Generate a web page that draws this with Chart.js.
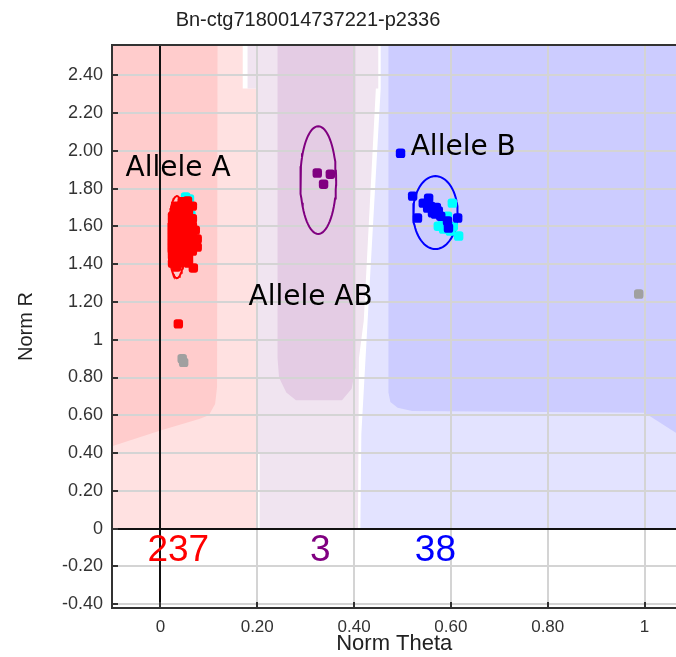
<!DOCTYPE html>
<html>
<head>
<meta charset="utf-8">
<script src="https://cdn.jsdelivr.net/npm/chart.js@4.4.1/dist/chart.umd.min.js"></script>
<style>
  body { margin: 0; background: #fff; overflow: hidden; }
  #wrap { width: 682px; height: 657px; position: relative; }
</style>
</head>
<body>
<div id="wrap"><canvas id="grafico"></canvas></div>
<script>
const titulo = 'Bn-ctg7180014737221-p2336'
const xTicks = [0, 0.2, 0.4, 0.6, 0.8, 1]
const yTicks = [-0.4, -0.2, 0, 0.2, 0.4, 0.6, 0.8, 1, 1.2, 1.4, 1.6, 1.8, 2, 2.2, 2.4]

// pontos (norm theta, norm R)
const pontosA = [
  [0.025, 1.654], [0.025, 1.628], [0.025, 1.601], [0.025, 1.575], [0.025, 1.549], [0.025, 1.522], [0.025, 1.496], [0.025, 1.470], [0.025, 1.443], [0.025, 1.406],
  [0.030, 1.690], [0.030, 1.420],
  [0.033, 1.707], [0.033, 1.665], [0.033, 1.640], [0.033, 1.617], [0.033, 1.596], [0.033, 1.575], [0.033, 1.548], [0.033, 1.522], [0.033, 1.496], [0.033, 1.469], [0.033, 1.448], [0.033, 1.427], [0.033, 1.385],
  [0.041, 1.707], [0.041, 1.683], [0.041, 1.660], [0.041, 1.638], [0.041, 1.617], [0.041, 1.590], [0.041, 1.564], [0.041, 1.538], [0.041, 1.512], [0.041, 1.485], [0.041, 1.459], [0.041, 1.432], [0.041, 1.406],
  [0.050, 1.712], [0.050, 1.691], [0.050, 1.664], [0.050, 1.638], [0.050, 1.612], [0.050, 1.586], [0.050, 1.560], [0.050, 1.533], [0.050, 1.506], [0.050, 1.480], [0.050, 1.454], [0.050, 1.427],
  [0.058, 1.670], [0.058, 1.643], [0.058, 1.617], [0.058, 1.590], [0.058, 1.564], [0.058, 1.538], [0.058, 1.512], [0.058, 1.485], [0.058, 1.459], [0.058, 1.432], [0.058, 1.406],
  [0.066, 1.707], [0.066, 1.640], [0.066, 1.601], [0.066, 1.560], [0.066, 1.522], [0.066, 1.496], [0.066, 1.469],
  [0.072, 1.580], [0.076, 1.533], [0.076, 1.490], [0.068, 1.380], [0.045, 1.730], [0.056, 1.735],
  [0.037, 1.084]
]
const pontosACiano = [[0.052, 1.755], [0.060, 1.745], [0.063, 1.660]]
const pontosAB = [[0.324, 1.882], [0.351, 1.876], [0.337, 1.823]]
const pontosB = [
  [0.496, 1.987], [0.521, 1.760], [0.554, 1.749], [0.543, 1.723], [0.558, 1.707], [0.552, 1.697],
  [0.564, 1.691], [0.574, 1.681], [0.568, 1.665], [0.579, 1.654], [0.531, 1.644], [0.593, 1.628],
  [0.614, 1.644], [0.595, 1.591], [0.562, 1.672], [0.570, 1.700]
]
const pontosBCiano = [
  [0.603, 1.723], [0.593, 1.654], [0.583, 1.628], [0.585, 1.586],
  [0.599, 1.575], [0.616, 1.549], [0.574, 1.601], [0.605, 1.600]
]
const pontosSemChamada = [[0.045, 0.900], [0.048, 0.880], [0.988, 1.242]]

// elipses dos clusters: [centro x, centro y, raio x, raio y]
const elipseA = [0.034, 1.543, 0.0175, 0.217]
const elipseAB = [0.326, 1.845, 0.037, 0.285]
const elipseB = [0.568, 1.673, 0.046, 0.193]

// regioes de classificacao (poligonos em coordenadas de dados)
const regiaoRosa = [[-0.12, 0], [0.2, 0], [0.2, 2.33], [0.17, 2.33], [0.17, 2.6], [-0.12, 2.6]]
const regiaoVermelha = [[-0.12, 2.6], [0.118, 2.6], [0.117, 0.75], [0.113, 0.66], [0.1, 0.6], [0.08, 0.58], [0.0, 0.52], [-0.12, 0.42]]
const regiaoLilas = [[0.205, 0], [0.408, 0], [0.41, 0.9], [0.42, 1.1], [0.445, 2.33], [0.45, 2.33], [0.45, 2.6], [0.18, 2.6], [0.18, 2.33], [0.2, 2.33], [0.2, 0.4], [0.205, 0.4]]
const regiaoRoxa = [[0.242, 2.6], [0.403, 2.6], [0.403, 0.85], [0.395, 0.74], [0.375, 0.68], [0.28, 0.68], [0.26, 0.72], [0.245, 0.8], [0.242, 0.9]]
const regiaoAzulClara = [[0.413, 0], [1.1, 0], [1.1, 2.6], [0.455, 2.6], [0.455, 2.33], [0.428, 1.1], [0.415, 0.5]]
const regiaoAzul = [[0.471, 2.6], [1.1, 2.6], [1.1, 0.45], [1.0, 0.613], [0.52, 0.623], [0.49, 0.64], [0.475, 0.67], [0.471, 0.72]]

const rotulos = [
  { texto: 'Allele A', x: -0.072, y: 1.903, cor: '#000', fonte: '28px "DejaVu Sans"', alinhar: 'left' },
  { texto: 'Allele AB', x: 0.182, y: 1.221, cor: '#000', fonte: '28px "DejaVu Sans"', alinhar: 'left' },
  { texto: 'Allele B', x: 0.517, y: 2.014, cor: '#000', fonte: '28px "DejaVu Sans"', alinhar: 'left' },
  { texto: '237', x: 0.037, y: -0.116, cor: '#ff0000', fonte: '37px "Liberation Sans"', alinhar: 'center' },
  { texto: '3', x: 0.33, y: -0.116, cor: '#800080', fonte: '37px "Liberation Sans"', alinhar: 'center' },
  { texto: '38', x: 0.568, y: -0.116, cor: '#0000ff', fonte: '37px "Liberation Sans"', alinhar: 'center' }
]

const xy = arr => arr.map(p => ({ x: p[0], y: p[1] }))

function pontosElipse(e) {
  const pts = []
  for (let i = 0; i <= 72; i++) {
    const a = i / 72 * Math.PI * 2
    pts.push({ x: e[0] + e[2] * Math.cos(a), y: e[1] + e[3] * Math.sin(a) })
  }
  return pts
}

function regiao(pts, cor, ordem) {
  return { data: xy(pts), showLine: true, fill: 'shape', backgroundColor: cor, borderWidth: 0, pointRadius: 0, order: ordem }
}

function elipse(e, cor) {
  return { data: pontosElipse(e), showLine: true, fill: false, borderColor: cor, borderWidth: 2, pointRadius: 0, order: 5 }
}

function pontos(arr, cor, ordem) {
  return { data: xy(arr), backgroundColor: cor, borderColor: cor, pointStyle: 'rectRounded', pointRadius: 5.5, borderWidth: 0, order: ordem }
}

function fmt(v) {
  if (Math.abs(v) < 1e-9) return '0'
  if (Math.abs(v - 1) < 1e-9) return '1'
  return v.toFixed(2)
}

const grade = {
  id: 'grade',
  afterDatasetDraw(chart, args) {
    if (chart.data.datasets[args.index].order !== 100) return
    const { ctx, chartArea: a, scales: { x, y } } = chart
    ctx.save()
    ctx.beginPath()
    ctx.rect(a.left, a.top, a.right - a.left, a.bottom - a.top)
    ctx.clip()
    ctx.strokeStyle = '#d4d4d4'
    ctx.lineWidth = 2
    xTicks.forEach(v => {
      const px = Math.round(x.getPixelForValue(v))
      ctx.beginPath(); ctx.moveTo(px, a.top); ctx.lineTo(px, a.bottom); ctx.stroke()
    })
    yTicks.forEach(v => {
      const py = Math.round(y.getPixelForValue(v))
      ctx.beginPath(); ctx.moveTo(a.left, py); ctx.lineTo(a.right, py); ctx.stroke()
    })
    ctx.strokeStyle = '#111'
    const x0 = Math.round(x.getPixelForValue(0))
    const y0 = Math.round(y.getPixelForValue(0))
    ctx.beginPath(); ctx.moveTo(x0, a.top); ctx.lineTo(x0, a.bottom); ctx.stroke()
    ctx.beginPath(); ctx.moveTo(a.left, y0); ctx.lineTo(a.right, y0); ctx.stroke()
    ctx.restore()
  },
  afterDatasetsDraw(chart) {
    const { ctx, chartArea: a, scales: { x, y } } = chart
    ctx.save()
    rotulos.forEach(r => {
      ctx.font = r.fonte
      ctx.fillStyle = r.cor
      ctx.textAlign = r.alinhar
      ctx.textBaseline = 'middle'
      ctx.fillText(r.texto, x.getPixelForValue(r.x), y.getPixelForValue(r.y))
    })
    // moldura e marcas dos ticks
    ctx.strokeStyle = '#333'
    ctx.lineWidth = 2
    ctx.beginPath()
    ctx.moveTo(a.right, a.top); ctx.lineTo(a.left, a.top); ctx.lineTo(a.left, a.bottom); ctx.lineTo(a.right, a.bottom)
    ctx.stroke()
    yTicks.forEach(v => {
      const py = Math.round(y.getPixelForValue(v))
      ctx.beginPath(); ctx.moveTo(a.left, py); ctx.lineTo(a.left + 6, py); ctx.stroke()
    })
    xTicks.forEach(v => {
      const px = Math.round(x.getPixelForValue(v))
      ctx.beginPath(); ctx.moveTo(px, a.bottom); ctx.lineTo(px, a.bottom - 6); ctx.stroke()
    })
    ctx.font = '20px "Liberation Sans"'
    ctx.fillStyle = '#222'
    ctx.textAlign = 'center'
    ctx.textBaseline = 'middle'
    ctx.fillText(titulo, 308, 20)
    ctx.restore()
  }
}

new Chart(document.getElementById('grafico'), {
  type: 'scatter',
  data: {
    datasets: [
      pontos(pontosB, '#0000ff', 1),
      pontos(pontosBCiano, '#00ffff', 2),
      pontos(pontosA, '#ff0000', 1),
      pontos(pontosACiano, '#00ffff', 2),
      pontos(pontosAB, '#800080', 1),
      pontos(pontosSemChamada, '#a0a0a0', 1),
      elipse(elipseA, '#ff0000'),
      elipse(elipseAB, '#800080'),
      elipse(elipseB, '#0000ff'),
      regiao(regiaoRoxa, '#e4cce4', 100),
      regiao(regiaoAzul, '#ccccff', 100),
      regiao(regiaoVermelha, '#ffcccc', 100),
      regiao(regiaoAzulClara, '#e3e3ff', 101),
      regiao(regiaoLilas, '#f0e4f0', 101),
      regiao(regiaoRosa, '#ffe1e1', 101)
    ]
  },
  options: {
    responsive: true,
    maintainAspectRatio: false,
    animation: false,
    layout: { padding: { top: 45, left: 0, right: 0, bottom: 0 } },
    plugins: { legend: { display: false }, tooltip: { enabled: false } },
    scales: {
      x: {
        type: 'linear', min: -0.1, max: 1.066,
        afterBuildTicks: s => { s.ticks = xTicks.map(v => ({ value: v })) },
        afterFit: s => { s.height = 49; s.paddingLeft = 0; s.paddingRight = 0 },
        grid: { display: false, drawTicks: false },
        border: { display: false },
        ticks: { callback: v => fmt(v), padding: 9, color: '#333', font: { family: 'Liberation Sans', size: 17 }, maxRotation: 0 },
        title: { display: true, text: 'Norm Theta', color: '#222', font: { family: 'Liberation Sans', size: 22 }, padding: { top: 0, bottom: 0 } }
      },
      y: {
        type: 'linear', min: -0.42, max: 2.56,
        afterBuildTicks: s => { s.ticks = yTicks.map(v => ({ value: v })) },
        afterFit: s => { s.width = 112 },
        grid: { display: false, drawTicks: false },
        border: { display: false },
        ticks: { callback: v => fmt(v), padding: 9, color: '#333', font: { family: 'Liberation Sans', size: 18 } },
        title: { display: true, text: 'Norm R', color: '#222', font: { family: 'Liberation Sans', size: 20 }, padding: { top: 14, bottom: 0 } }
      }
    }
  },
  plugins: [grade]
})
</script>
</body>
</html>
